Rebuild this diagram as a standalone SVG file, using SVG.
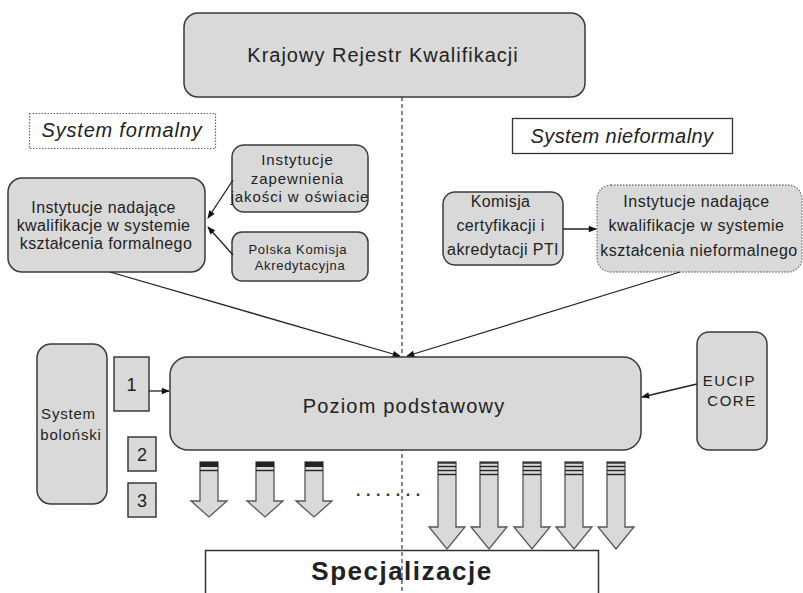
<svg xmlns="http://www.w3.org/2000/svg" width="803" height="593" viewBox="0 0 803 593">
  <style>
    .box { fill: #d9d9d9; stroke: #3a3a3a; stroke-width: 1.5; }
    .dotbox { fill: #d9d9d9; stroke: #7a7a7a; stroke-width: 1.3; stroke-dasharray: 1.5 1.5; }
    .lbl { font-family: "Liberation Sans", Arial, sans-serif; fill: #222; text-anchor: middle; }
    .conn { stroke: #222; stroke-width: 1.3; fill: none; }
    .blk { fill: #d9d9d9; stroke: #555; stroke-width: 1.3; }
    .stripe { stroke: #222; stroke-width: 1.4; }
  </style>
  <defs>
    <marker id="arr" viewBox="0 0 10 10" refX="9" refY="5" markerWidth="9" markerHeight="8" orient="auto" markerUnits="userSpaceOnUse">
      <path d="M0,1 L10,5 L0,9 Z" fill="#111"/>
    </marker>
    <!-- short block arrow (left group) -->
    <g id="blkShort">
      <path class="blk" d="M-9,462 H9 V501 H18 L0,517 L-18,501 H-9 Z"/>
      <rect x="-9" y="462" width="18" height="5" fill="#222"/>
      <line class="stripe" x1="-9" y1="470.5" x2="9" y2="470.5"/>
    </g>
    <!-- long block arrow (right group) -->
    <g id="blkLong">
      <path class="blk" d="M-9,462 H9 V527 H18 L0,549 L-18,527 H-9 Z"/>
      <line class="stripe" x1="-9" y1="463" x2="9" y2="463"/>
      <line class="stripe" x1="-9" y1="466.5" x2="9" y2="466.5"/>
      <line class="stripe" x1="-9" y1="470.5" x2="9" y2="470.5"/>
      <line class="stripe" x1="-9" y1="474.5" x2="9" y2="474.5"/>
    </g>
  </defs>

  <rect width="803" height="593" fill="#ffffff"/>

  <!-- Specjalizacje -->
  <g id="specjalizacje">
    <rect x="205.5" y="550.5" width="393" height="50" fill="#ffffff" stroke="#333" stroke-width="1.5"/>
    <text class="lbl" x="402" y="580" font-size="26" font-weight="bold" letter-spacing="1.5" fill="#111">Specjalizacje</text>
  </g>

  <!-- divider between formal and non-formal systems -->
  <line x1="402" y1="97" x2="402" y2="593" stroke="#555" stroke-width="1.4" stroke-dasharray="4 3"/>

  <g id="krk">
    <rect class="box" x="184" y="13" width="401" height="84" rx="14"/>
    <text class="lbl" x="383" y="62" font-size="20" letter-spacing="1">Krajowy Rejestr Kwalifikacji</text>
  </g>

  <g id="system-formalny">
    <rect x="29.5" y="113.5" width="186" height="35" fill="#fff" stroke="#666" stroke-width="1.2" stroke-dasharray="1.5 1.5"/>
    <text class="lbl" x="122" y="137" font-size="20" font-style="italic" letter-spacing="0.8">System formalny</text>
  </g>

  <g id="system-nieformalny">
    <rect x="512.5" y="118.5" width="220" height="35" fill="#fff" stroke="#333" stroke-width="1.3"/>
    <text class="lbl" x="622" y="143" font-size="20" font-style="italic" letter-spacing="0.4">System nieformalny</text>
  </g>

  <g id="inst-formalne">
    <rect class="box" x="8" y="178" width="197" height="94" rx="14"/>
    <text class="lbl" font-size="16" letter-spacing="0.4">
      <tspan x="106" y="213">Instytucje nadające</tspan>
      <tspan x="106" y="231">kwalifikacje w systemie</tspan>
      <tspan x="106" y="249">kształcenia formalnego</tspan>
    </text>
  </g>

  <g id="inst-jakosci">
    <rect class="box" x="232" y="145" width="136" height="67" rx="12"/>
    <text class="lbl" font-size="15" letter-spacing="0.9">
      <tspan x="300" y="165">Instytucje</tspan>
      <tspan x="300" y="184">zapewnienia</tspan>
      <tspan x="300" y="202">jakości w oświacie</tspan>
    </text>
  </g>

  <g id="pka">
    <rect class="box" x="232" y="232" width="136" height="49" rx="10"/>
    <text class="lbl" font-size="13" letter-spacing="0.7">
      <tspan x="300" y="254">Polska Komisja</tspan>
      <tspan x="300" y="270">Akredytacyjna</tspan>
    </text>
  </g>

  <g id="komisja-pti">
    <rect class="box" x="443" y="192" width="120" height="73" rx="12"/>
    <text class="lbl" font-size="16" letter-spacing="0.4">
      <tspan x="503" y="207">Komisja</tspan>
      <tspan x="503" y="231">certyfikacji i</tspan>
      <tspan x="503" y="255">akredytacji PTI</tspan>
    </text>
  </g>

  <g id="inst-nieformalne">
    <rect class="dotbox" x="597" y="185" width="205" height="87" rx="14"/>
    <text class="lbl" font-size="16" letter-spacing="0.5">
      <tspan x="699" y="207">Instytucje nadające</tspan>
      <tspan x="699" y="231">kwalifikacje  w systemie</tspan>
      <tspan x="699" y="256">kształcenia nieformalnego</tspan>
    </text>
  </g>

  <g id="poziom-podstawowy">
    <rect class="box" x="170" y="357" width="471" height="93" rx="18"/>
    <text class="lbl" x="404" y="413" font-size="20" letter-spacing="1.2">Poziom podstawowy</text>
  </g>

  <g id="system-bolonski">
    <rect class="box" x="37" y="344" width="70" height="160" rx="14"/>
    <text class="lbl" font-size="15" letter-spacing="0.8">
      <tspan x="71" y="419">System</tspan>
      <tspan x="71" y="440">boloński</tspan>
    </text>
  </g>

  <g id="stopien-1">
    <rect class="box" x="114" y="357" width="35" height="54"/>
    <text class="lbl" x="131.5" y="391" font-size="18">1</text>
  </g>
  <g id="stopien-2">
    <rect class="box" x="128" y="437" width="28" height="34"/>
    <text class="lbl" x="142" y="461" font-size="18">2</text>
  </g>
  <g id="stopien-3">
    <rect class="box" x="128" y="483" width="28" height="34"/>
    <text class="lbl" x="142" y="507" font-size="18">3</text>
  </g>

  <g id="eucip-core">
    <rect class="box" x="697" y="332" width="70" height="118" rx="12"/>
    <text class="lbl" font-size="15" letter-spacing="1.5">
      <tspan x="732" y="386">EUCIP</tspan>
      <tspan x="732" y="406">CORE</tspan>
    </text>
  </g>

  <!-- connectors -->
  <g id="connectors">
    <line class="conn" x1="233" y1="180" x2="208" y2="218" marker-end="url(#arr)"/>
    <line class="conn" x1="233" y1="255" x2="208" y2="227" marker-end="url(#arr)"/>
    <line class="conn" x1="563" y1="229" x2="596" y2="229" marker-end="url(#arr)"/>
    <line class="conn" x1="110" y1="272" x2="400" y2="356" marker-end="url(#arr)"/>
    <line class="conn" x1="680" y1="272" x2="407" y2="356" marker-end="url(#arr)"/>
    <line class="conn" x1="149" y1="391" x2="169" y2="391" marker-end="url(#arr)"/>
    <line class="conn" x1="697" y1="384" x2="642" y2="397" marker-end="url(#arr)"/>
  </g>

  <!-- block arrows towards specialisations -->
  <g id="block-arrows">
    <use href="#blkShort" x="209"/>
    <use href="#blkShort" x="265"/>
    <use href="#blkShort" x="314"/>
    <use href="#blkLong" x="447"/>
    <use href="#blkLong" x="489"/>
    <use href="#blkLong" x="532"/>
    <use href="#blkLong" x="574"/>
    <use href="#blkLong" x="616"/>
  </g>

  <text x="356" y="496" font-family="Liberation Sans, Arial, sans-serif" font-size="16" font-weight="bold" letter-spacing="5.5" fill="#333">.......</text>
</svg>
